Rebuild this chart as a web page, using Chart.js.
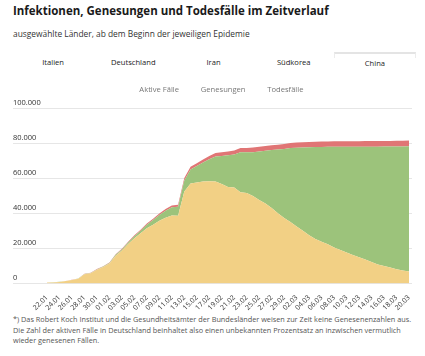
<!DOCTYPE html>
<html><head><meta charset="utf-8">
<script src="https://cdn.jsdelivr.net/npm/chart.js@4"></script>
<style>
html,body{margin:0;padding:0;background:#fff;width:425px;height:356px;overflow:hidden;font-family:"Open Sans",sans-serif;}
#title{position:absolute;left:13px;top:3px;font-size:11.5px;line-height:16px;font-weight:700;color:#1a1a1a;white-space:nowrap;}
#sub{position:absolute;left:13px;top:28px;font-size:8.4px;line-height:12px;color:#333;white-space:nowrap;}
#tabs{position:absolute;left:13px;top:52px;width:403px;height:20px;display:flex;}
#tabs div{flex:1;text-align:center;font-size:7.6px;color:#222;line-height:20px;position:relative;}
#tabs div.act{border-top:2px solid #e4e4e4;border-left:1px solid #ececec;border-right:1px solid #ececec;line-height:18px;height:4px;overflow:visible;}
#wrap{position:absolute;left:0;top:68px;width:425px;height:246px;}
#foot{position:absolute;left:13px;top:314px;width:410px;font-size:7.3px;line-height:10.6px;color:#555;}
</style></head><body>
<div id="title">Infektionen, Genesungen und Todesfälle im Zeitverlauf</div>
<div id="sub">ausgewählte Länder, ab dem Beginn der jeweiligen Epidemie</div>
<div id="tabs"><div>Italien</div><div>Deutschland</div><div>Iran</div><div>Südkorea</div><div class="act">China</div></div>
<div id="wrap"><canvas id="c"></canvas></div>
<div id="foot">*) Das Robert Koch Institut und die Gesundheitsämter der Bundesländer weisen zur Zeit keine Genesenenzahlen aus. Die Zahl der aktiven Fälle in Deutschland beinhaltet also einen unbekannten Prozentsatz an inzwischen vermutlich wieder genesenen Fällen.</div>
<script>
const dates = ["22.01","23.01","24.01","25.01","26.01","27.01","28.01","29.01","30.01","31.01",
"01.02","02.02","03.02","04.02","05.02","06.02","07.02","08.02","09.02","10.02","11.02","12.02","13.02","14.02","15.02","16.02","17.02","18.02","19.02","20.02","21.02","22.02","23.02","24.02","25.02","26.02","27.02","28.02","29.02",
"01.03","02.03","03.03","04.03","05.03","06.03","07.03","08.03","09.03","10.03","11.03","12.03","13.03","14.03","15.03","16.03","17.03","18.03","19.03","20.03"];
const active = [503,595,858,1325,1970,2737,5277,5834,7835,9375,
11357,15806,18677,22374,25763,28479,31395,33415,35707,37426,38640,38564,52314,56865,57457,58000,58116,58010,56553,54839,54621,51872,51407,49656,47441,45398,42958,39849,37242,
34944,32414,29912,27450,25284,23760,22222,20406,19006,17645,16119,14862,13569,12124,10783,9906,9030,8106,7372,6731];
const recovered = [28,30,36,39,49,58,101,120,135,214,
275,463,614,843,1115,1476,1998,2595,3218,3917,4635,5079,6213,7973,9294,10748,12455,14199,15952,18002,18693,22687,23170,24990,27650,30053,32898,36291,39279,
42118,44810,47404,49955,52240,53888,55478,57320,58735,60106,61644,62901,64196,65660,67017,67910,68798,69755,70535,71266];
const deaths = [17,18,26,42,56,82,131,133,171,213,
259,361,425,490,562,632,717,804,904,1011,1111,1116,1368,1520,1662,1765,1863,2002,2114,2236,2236,2442,2445,2595,2663,2715,2744,2788,2835,
2870,2912,2945,2981,3013,3042,3070,3097,3119,3136,3158,3169,3180,3193,3203,3217,3230,3241,3249,3253];
const yTicks = [0,20000,40000,60000,80000,100000];
const yTickLabels = ["0","20.000","40.000","60.000","80.000","100.000"];
const seriesNames = ["Aktive Fälle","Genesungen","Todesfälle"];
const colors = ["#f2d085","#9cc37b","#e07575"];

const yAxisPlugin = {
  id:'yAxisCustom',
  beforeInit(chart){
    const lg = chart.legend;
    if (lg && lg.fit) {
      const orig = lg.fit;
      lg.fit = function(){ orig.apply(this, arguments); this.height += 4; };
    }
  },
  beforeDatasetsDraw(chart){
    const ctx = chart.ctx, y = chart.scales.y, a = chart.chartArea;
    ctx.save();
    ctx.strokeStyle = '#e6e6e6'; ctx.lineWidth = 1;
    yTicks.forEach(v=>{ const p = Math.round(y.getPixelForValue(v))+0.5; ctx.beginPath(); ctx.moveTo(13,p); ctx.lineTo(a.right+3,p); ctx.stroke(); });
    ctx.restore();
  },
  afterDraw(chart){
    const ctx = chart.ctx, y = chart.scales.y;
    ctx.save();
    ctx.font = '7.5px "Open Sans"';
    ctx.fillStyle = '#333';
    ctx.textAlign = 'left';
    ctx.textBaseline = 'alphabetic';
    yTicks.forEach((v,i)=>{ ctx.fillText(yTickLabels[i], 13, y.getPixelForValue(v)-3); });
    ctx.restore();
  }
};

new Chart(document.getElementById('c'), {
  type:'line',
  data:{
    labels: dates,
    datasets:[
      {label:seriesNames[0], data:active, backgroundColor:colors[0], fill:'origin'},
      {label:seriesNames[1], data:recovered, backgroundColor:colors[1], fill:'-1'},
      {label:seriesNames[2], data:deaths, backgroundColor:colors[2], fill:'-1'}
    ]
  },
  options:{
    responsive:true, maintainAspectRatio:false, animation:false,
    elements:{point:{radius:0}, line:{borderWidth:0, tension:0}},
    layout:{padding:{left:30, right:16, top:0, bottom:0}},
    plugins:{
      legend:{display:true, position:'top',
        labels:{boxWidth:0, boxHeight:0, padding:18, color:'#777', font:{family:'"Open Sans"', size:7.6},
          generateLabels(chart){ return chart.data.datasets.map((d,i)=>({text:d.label, fillStyle:'rgba(0,0,0,0)', strokeStyle:'rgba(0,0,0,0)', lineWidth:0, datasetIndex:i, fontColor:'#777'})); }
        }
      },
      tooltip:{enabled:false}
    },
    scales:{
      x:{
        grid:{display:false}, border:{display:false},
        ticks:{autoSkip:false, maxRotation:45, minRotation:45, padding:2, color:'#333', font:{family:'"Open Sans"', size:7},
          callback(v,i){ return i%2===0 ? dates[i] : ''; }}
      },
      y:{
        stacked:true, min:0, max:100000,
        afterBuildTicks(s){ s.ticks = yTicks.map(v=>({value:v})); },
        afterFit(s){ s.width = 17; },
        grid:{display:false},
        border:{display:false},
        ticks:{display:false}
      }
    }
  },
  plugins:[yAxisPlugin]
});
</script>
</body></html>
